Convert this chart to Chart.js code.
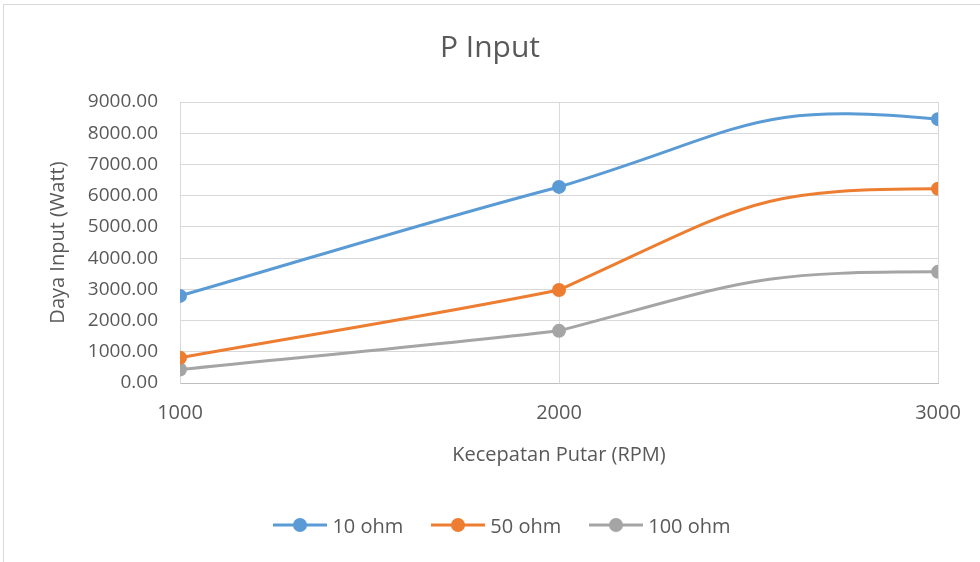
<!DOCTYPE html>
<html>
<head>
<meta charset="utf-8">
<script src="https://cdn.jsdelivr.net/npm/chart.js@4/dist/chart.umd.min.js"></script>
<style>
  html, body { margin: 0; padding: 0; background: #fff; overflow: hidden; }
  #wrap { position: relative; width: 980px; height: 562px; }
  #frame { position: absolute; left: 3px; top: 4px; width: 1000px; height: 600px;
           border: 1px solid #d9d9d9; box-sizing: border-box; pointer-events: none; }
  #legend { position: absolute; left: 0; top: 512px; width: 1004px; height: 26px;
            display: flex; justify-content: center; align-items: center;
            font-family: "Open Sans", sans-serif; font-size: 20px; color: #595959; }
  .item { display: flex; align-items: center; margin: 0 14px; }
  .item svg { margin-right: 5px; }
</style>
</head>
<body>
<div id="wrap">
  <canvas id="c" width="980" height="562"></canvas>
  <div id="frame"></div>
  <div id="legend"></div>
</div>
<script>
// Rotational speed (RPM) and input power (Watt) per load resistance
const rpm = [1000, 2000, 3000];
const p10ohm = [2790, 6280, 8450];
const p50ohm = [810, 2980, 6220];
const p100ohm = [430, 1670, 3560];
const seriesNames = ['10 ohm', '50 ohm', '100 ohm'];
const seriesColors = ['#5B9BD5', '#ED7D31', '#A5A5A5'];
const xTicks = [1000, 2000, 3000];
const yTicks = [0, 1000, 2000, 3000, 4000, 5000, 6000, 7000, 8000, 9000];

const textColor = '#595959';
const fontFamily = '"Open Sans", sans-serif';

function toPoints(values) {
  return rpm.map((r, i) => ({ x: r, y: values[i] }));
}

const seriesValues = [p10ohm, p50ohm, p100ohm];
const datasets = seriesValues.map((vals, i) => ({
  label: seriesNames[i],
  data: toPoints(vals),
  borderColor: seriesColors[i],
  backgroundColor: seriesColors[i],
  pointBackgroundColor: seriesColors[i],
  pointBorderColor: seriesColors[i],
  pointRadius: 7,
  pointBorderWidth: 0,
  borderWidth: 3,
  tension: 0.4,
  fill: false
}));

// Smoothed-line style: a near-straight lead-in, and an eased approach that
// levels off into the last point (with a slight crest when the series bends down).
function smoothControls(pts) {
  const n = pts.length;
  if (n < 3) return;
  const slope = (a, b) => (b.y - a.y) / (b.x - a.x);
  for (let k = 0; k < n - 1; k++) {
    const p = pts[k], q = pts[k + 1];
    const dx = q.x - p.x, dy = q.y - p.y;
    const last = (k === n - 2);
    // control leaving p
    if (k === 0) {
      p.cp2x = p.x + dx / 3; p.cp2y = p.y + dy / 3;
    } else if (last) {
      p.cp2x = p.x + dx / 2; p.cp2y = p.y + 0.85 * dy;
    } else {
      const m = (slope(pts[k - 1], p) + slope(pts[k - 1], q)) / 2;
      p.cp2x = p.x + dx / 3; p.cp2y = p.y + m * dx / 3;
    }
    // control arriving at q
    if (last) {
      const prev = pts[k - 1];
      const bend = dy - (p.y - prev.y);
      q.cp1x = q.x - dx / 2; q.cp1y = q.y - Math.max(0, 0.44 * bend);
    } else {
      const m = (slope(p, q) + slope(p, pts[k + 2])) / 2;
      q.cp1x = q.x - dx / 3; q.cp1y = q.y - m * dx / 3;
    }
  }
}

const smoothPlugin = {
  id: 'smoothControls',
  beforeDatasetDraw(chart, args) {
    const meta = args.meta;
    const line = meta.dataset;
    if (!line) return;
    line.updateControlPoints(chart.chartArea, meta.iScale.axis);
    smoothControls(line.points);
    line._path = undefined;
  }
};

new Chart(document.getElementById('c'), {
  type: 'line',
  data: { datasets },
  plugins: [smoothPlugin],
  options: {
    responsive: false,
    animation: false,
    layout: { padding: { top: 10, left: 42, right: 42, bottom: 91 } },
    plugins: {
      legend: { display: false },
      tooltip: { enabled: false },
      title: {
        display: true,
        text: 'P Input',
        color: textColor,
        font: { family: fontFamily, size: 30, weight: 'normal' },
        padding: { top: 20, bottom: 36 }
      }
    },
    scales: {
      x: {
        type: 'linear',
        min: xTicks[0],
        max: xTicks[xTicks.length - 1],
        afterBuildTicks: (scale) => { scale.ticks = xTicks.map(v => ({ value: v })); },
        afterFit: (scale) => { scale.height = 88; },
        ticks: {
          color: textColor,
          font: { family: fontFamily, size: 20 },
          padding: 18,
          callback: (v) => String(v),
          maxRotation: 0
        },
        grid: { color: '#d9d9d9', lineWidth: 1, drawTicks: false },
        border: { color: '#bfbfbf', width: 1 },
        title: {
          display: true,
          text: 'Kecepatan Putar (RPM)',
          color: textColor,
          font: { family: fontFamily, size: 20 },
          padding: { top: 4, bottom: 4 }
        }
      },
      y: {
        min: yTicks[0],
        max: yTicks[yTicks.length - 1],
        afterBuildTicks: (scale) => { scale.ticks = yTicks.map(v => ({ value: v })); },
        afterFit: (scale) => { scale.width = 138; },
        ticks: {
          color: textColor,
          font: { family: fontFamily, size: 19 },
          padding: 22,
          callback: (v) => Number(v).toFixed(2)
        },
        grid: { color: '#d9d9d9', lineWidth: 1, drawTicks: false },
        border: { color: '#d9d9d9', width: 1 },
        title: {
          display: true,
          text: 'Daya Input (Watt)',
          color: textColor,
          font: { family: fontFamily, size: 20 },
          padding: { top: 4, bottom: 4 }
        }
      }
    }
  }
});

// Legend: line with a round marker, then the series name
const legend = document.getElementById('legend');
seriesNames.forEach((name, i) => {
  const item = document.createElement('div');
  item.className = 'item';
  const c = seriesColors[i];
  item.innerHTML =
    '<svg width="54" height="16" viewBox="0 0 54 16">' +
    '<line x1="0" y1="8" x2="54" y2="8" stroke="' + c + '" stroke-width="3"/>' +
    '<circle cx="27" cy="8" r="7" fill="' + c + '"/></svg>' +
    '<span>' + name + '</span>';
  legend.appendChild(item);
});
</script>
</body>
</html>
